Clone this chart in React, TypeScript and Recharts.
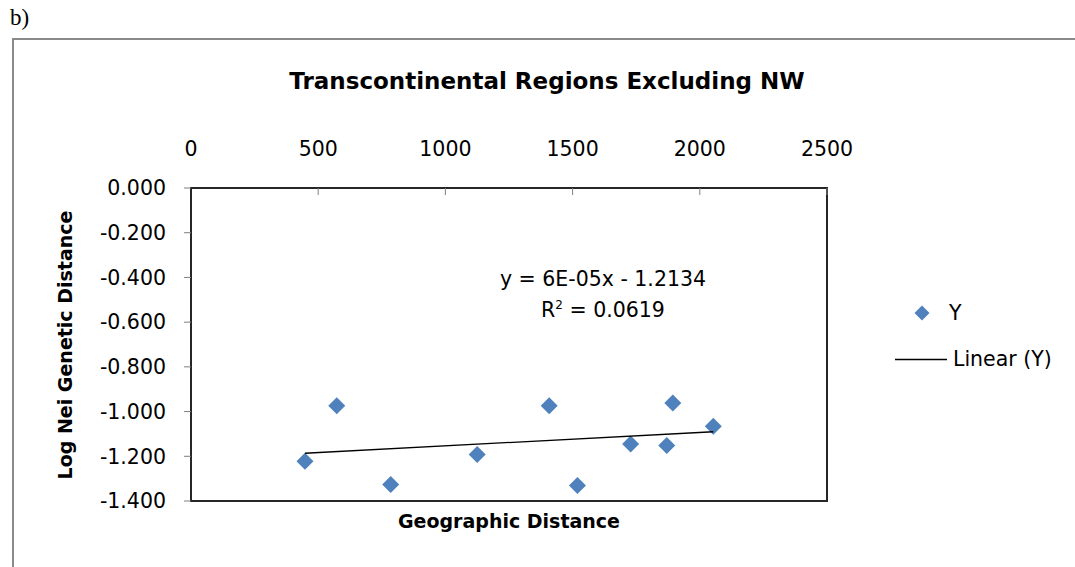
import { ScatterChart, Scatter, XAxis, YAxis, ReferenceArea } from 'recharts'

// page has default 8px body margin; chart is laid out against the viewport corner
if (typeof document !== 'undefined') document.body.style.margin = '0'

const FONT = '"DejaVu Sans", Verdana, sans-serif'
const MARKER = '#4F81BD'
const AXIS = '#262626'

const X_TICKS = [0, 500, 1000, 1500, 2000, 2500]
const Y_TICKS = [0, -0.2, -0.4, -0.6, -0.8, -1.0, -1.2, -1.4]

// geographic distance vs log Nei genetic distance
const GEO_DIST = [448, 573, 785, 1125, 1408, 1519, 1728, 1870, 1894, 2053]
const LOG_NEI = [-1.222, -0.974, -1.326, -1.192, -0.974, -1.331, -1.145, -1.152, -0.962, -1.066]

// fitted linear trend, as printed on the chart
const SLOPE = 6e-5
const INTERCEPT = -1.2134
const R2 = 0.0619

const points = GEO_DIST.map((x, i) => ({ x, y: LOG_NEI[i] }))
const xMin = Math.min(...GEO_DIST)
const xMax = Math.max(...GEO_DIST)
const trend = [xMin, xMax].map((x) => ({ x, y: SLOPE * x + INTERCEPT }))

const W = 1075
const H = 567

function Diamond({ cx, cy, r = 8.5 }: { cx?: number; cy?: number; r?: number }) {
  if (cx == null || cy == null) return null
  return <path d={`M${cx},${cy - r}L${cx + r},${cy}L${cx},${cy + r}L${cx - r},${cy}Z`} fill={MARKER} />
}

function LegendBox() {
  return (
    <div style={{ position: 'absolute', left: 895, top: 298, width: 180, height: 80, fontSize: 20.5, color: '#000' }}>
      <svg width={60} height={80} style={{ position: 'absolute', left: 0, top: 0 }}>
        <Diamond cx={27} cy={15} r={7.5} />
        <line x1={0} x2={52} y1={61.5} y2={61.5} stroke="#000" strokeWidth={1.3} />
      </svg>
      <span style={{ position: 'absolute', left: 54, top: 2, lineHeight: '26px' }}>Y</span>
      <span style={{ position: 'absolute', left: 58, top: 48, lineHeight: '26px' }}>Linear (Y)</span>
    </div>
  )
}

export default function App() {
  return (
    <div style={{ position: 'relative', width: W, height: H, overflow: 'hidden', background: '#fff', fontFamily: FONT }}>
      <div style={{ position: 'absolute', left: 10, top: 5, fontFamily: '"Liberation Serif", serif', fontSize: 23 }}>b)</div>
      <div style={{ position: 'absolute', left: 12, top: 38, width: W + 20, height: H + 20, border: '2px solid #8a8a8a' }} />

      <div style={{ position: 'absolute', left: 547, top: 68, transform: 'translateX(-50%)', whiteSpace: 'nowrap', fontSize: 23, fontWeight: 'bold' }}>
        Transcontinental Regions Excluding NW
      </div>

      <div style={{ position: 'absolute', left: 0, top: 0 }}>
        <ScatterChart width={W} height={H} margin={{ top: 158, right: 248, bottom: 66, left: 40 }}>
          <XAxis
            type="number"
            dataKey="x"
            orientation="top"
            domain={[0, 2500]}
            ticks={X_TICKS}
            height={30}
            axisLine={{ stroke: AXIS, strokeWidth: 2 }}
            tickLine={{ stroke: '#7f7f7f', strokeWidth: 1 }}
            tickSize={-7}
            tickMargin={39}
            tick={{ fill: '#000', fontSize: 20.5, fontFamily: FONT }}
            allowDataOverflow
          />
          <YAxis
            type="number"
            dataKey="y"
            domain={[-1.4, 0]}
            ticks={Y_TICKS}
            width={151}
            axisLine={{ stroke: AXIS, strokeWidth: 2 }}
            tickLine={{ stroke: '#7f7f7f', strokeWidth: 1 }}
            tickSize={7}
            tickMargin={18}
            tickFormatter={(v: number) => v.toFixed(3)}
            tick={{ fill: '#000', fontSize: 20.5, fontFamily: FONT }}
            allowDataOverflow
          />
          <ReferenceArea x1={0} x2={2500} y1={-1.4} y2={0} fill="none" stroke={AXIS} strokeWidth={2} ifOverflow="visible" />
          <Scatter name="Y" data={points} shape={<Diamond />} isAnimationActive={false} />
          <Scatter
            name="Linear (Y)"
            data={trend}
            line={{ stroke: '#000', strokeWidth: 1.3 }}
            shape={() => <g />}
            isAnimationActive={false}
          />
        </ScatterChart>
      </div>

      <LegendBox />

      <div style={{ position: 'absolute', left: 603, top: 264, transform: 'translateX(-50%)', whiteSpace: 'nowrap', fontSize: 20.5, textAlign: 'center', lineHeight: '31px' }}>
        <div>y = {SLOPE.toExponential(0).replace('e-', 'E-0')}x - {Math.abs(INTERCEPT)}</div>
        <div>R<sup style={{ fontSize: 12, lineHeight: 0 }}>2</sup> = {R2}</div>
      </div>

      <div style={{ position: 'absolute', left: 509, top: 510, transform: 'translateX(-50%)', whiteSpace: 'nowrap', fontSize: 19, fontWeight: 'bold' }}>
        Geographic Distance
      </div>

      <div style={{ position: 'absolute', left: 65, top: 345, transform: 'translate(-50%, -50%) rotate(-90deg)', whiteSpace: 'nowrap', fontSize: 19, fontWeight: 'bold' }}>
        Log Nei Genetic Distance
      </div>
    </div>
  )
}
